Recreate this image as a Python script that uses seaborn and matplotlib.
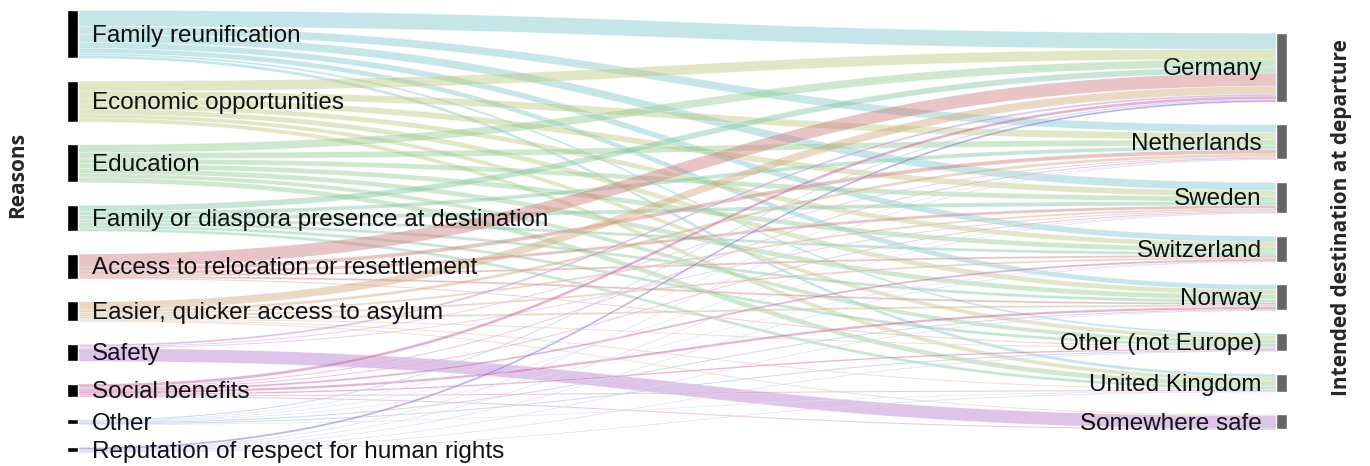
import numpy as np
import pandas as pd
import matplotlib.pyplot as plt
import seaborn as sns

reasons = ["Family reunification", "Economic opportunities", "Education",
           "Family or diaspora presence at destination",
           "Access to relocation or resettlement", "Easier, quicker access to asylum",
           "Safety", "Social benefits", "Other", "Reputation of respect for human rights"]
destinations = ["Germany", "Netherlands", "Sweden", "Switzerland", "Norway",
                "Other (not Europe)", "United Kingdom", "Somewhere safe"]

# one row per reason, values in destination order
family_reunification = [16, 8, 8, 6, 5, 2, 3, 0]
economic = [10, 7, 6, 5, 5, 4, 4, 0]
education = [8, 6, 5, 5, 5, 4, 5, 0]
diaspora = [6, 4, 4, 3, 3, 3, 3, 0]
relocation = [13, 4, 3, 2, 2, 1, 0, 0]
asylum = [8, 3, 2, 2, 2, 1, 1, 1]
safety = [2, 1, 1, 0, 0, 0, 0, 13]
social_benefits = [3, 1, 1, 2, 2.5, 1.5, 1, 1]
other = [1, 0.5, 0.5, 0.5, 1, 1, 0.5, 0]
reputation = [2, 0.5, 0.5, 0.5, 0.5, 0.5, 0.5, 0]

reason_colors = ["#7dc9cd", "#bdc97d", "#91cd91", "#80c8a0", "#cd7d7d",
                 "#d1a97d", "#b97dd1", "#c8559a", "#6991cd", "#6955cd"]

flows = pd.DataFrame([family_reunification, economic, education, diaspora, relocation,
                      asylum, safety, social_benefits, other, reputation],
                     index=reasons, columns=destinations)

sns.set_theme(style="white")
plt.rcParams['font.family'] = ['Liberation Sans', 'DejaVu Sans']
palette = sns.color_palette(reason_colors)

fig = plt.figure(figsize=(13.7, 4.66), dpi=100)
ax = fig.add_axes([0, 0, 1, 1])
ax.set_xlim(0, 1370)
ax.set_ylim(466, 0)
ax.axis('off')

# layout
lx0, lx1 = 67, 78
rx0, rx1 = 1276, 1287
top, bottom = 10, 452
gap = 22.7

src_tot = flows.sum(axis=1).values
dst_tot = flows.sum(axis=0).values
scale = (bottom - top - gap * (len(reasons) - 1)) / src_tot.sum()

src_y = top + np.concatenate([[0], np.cumsum(src_tot * scale + gap)[:-1]])
span_r = dst_tot.sum() * scale + gap * (len(destinations) - 1)
rtop = (top + bottom) / 2 - span_r / 2
dst_y = rtop + np.concatenate([[0], np.cumsum(dst_tot * scale + gap)[:-1]])

vals = flows.values
t = np.linspace(0, 1, 200)
xm = (lx1 + rx0) / 2
xs = (1 - t) ** 3 * lx1 + 3 * (1 - t) ** 2 * t * xm + 3 * (1 - t) * t ** 2 * xm + t ** 3 * rx0
h = 3 * t ** 2 - 2 * t ** 3

# offsets at destination: stack by reason order
dst_start = np.zeros_like(vals, dtype=float)
for j in range(len(destinations)):
    y = dst_y[j]
    for i in range(len(reasons)):
        dst_start[i, j] = y
        y += vals[i, j] * scale

for i in range(len(reasons)):
    y = src_y[i]
    for j in range(len(destinations)):
        w = vals[i, j] * scale
        if w <= 0:
            continue
        y1 = dst_start[i, j]
        ytop = y + (y1 - y) * h
        ax.fill_between(xs, ytop, ytop + w, color=palette[i], alpha=0.45,
                        edgecolor='white', linewidth=0.4, zorder=1)
        y += w

# nodes
for i, name in enumerate(reasons):
    hgt = src_tot[i] * scale
    ax.bar(lx0, hgt, bottom=src_y[i], width=lx1 - lx0, align='edge',
           color='black', zorder=2)
    ax.text(92, src_y[i] + hgt / 2 + 2, name, fontsize=17.5, va='center', ha='left',
            color='#111111', zorder=3)

for j, name in enumerate(destinations):
    hgt = dst_tot[j] * scale
    ax.bar(rx0, hgt, bottom=dst_y[j], width=rx1 - rx0, align='edge',
           color='#666666', zorder=2)
    ax.text(1262, dst_y[j] + hgt / 2 + 2, name, fontsize=17.5, va='center', ha='right',
            color='#111111', zorder=3)

ax.text(18, 175, "Reasons", rotation=90, fontsize=15, fontweight='bold',
        family=['Open Sans', 'DejaVu Sans'], va='center', ha='center')
ax.text(1342, 218, "Intended destination at departure", rotation=90, fontsize=15,
        fontweight='bold', family=['Open Sans', 'DejaVu Sans'], va='center', ha='center')

fig.savefig("out.png", dpi=100)
